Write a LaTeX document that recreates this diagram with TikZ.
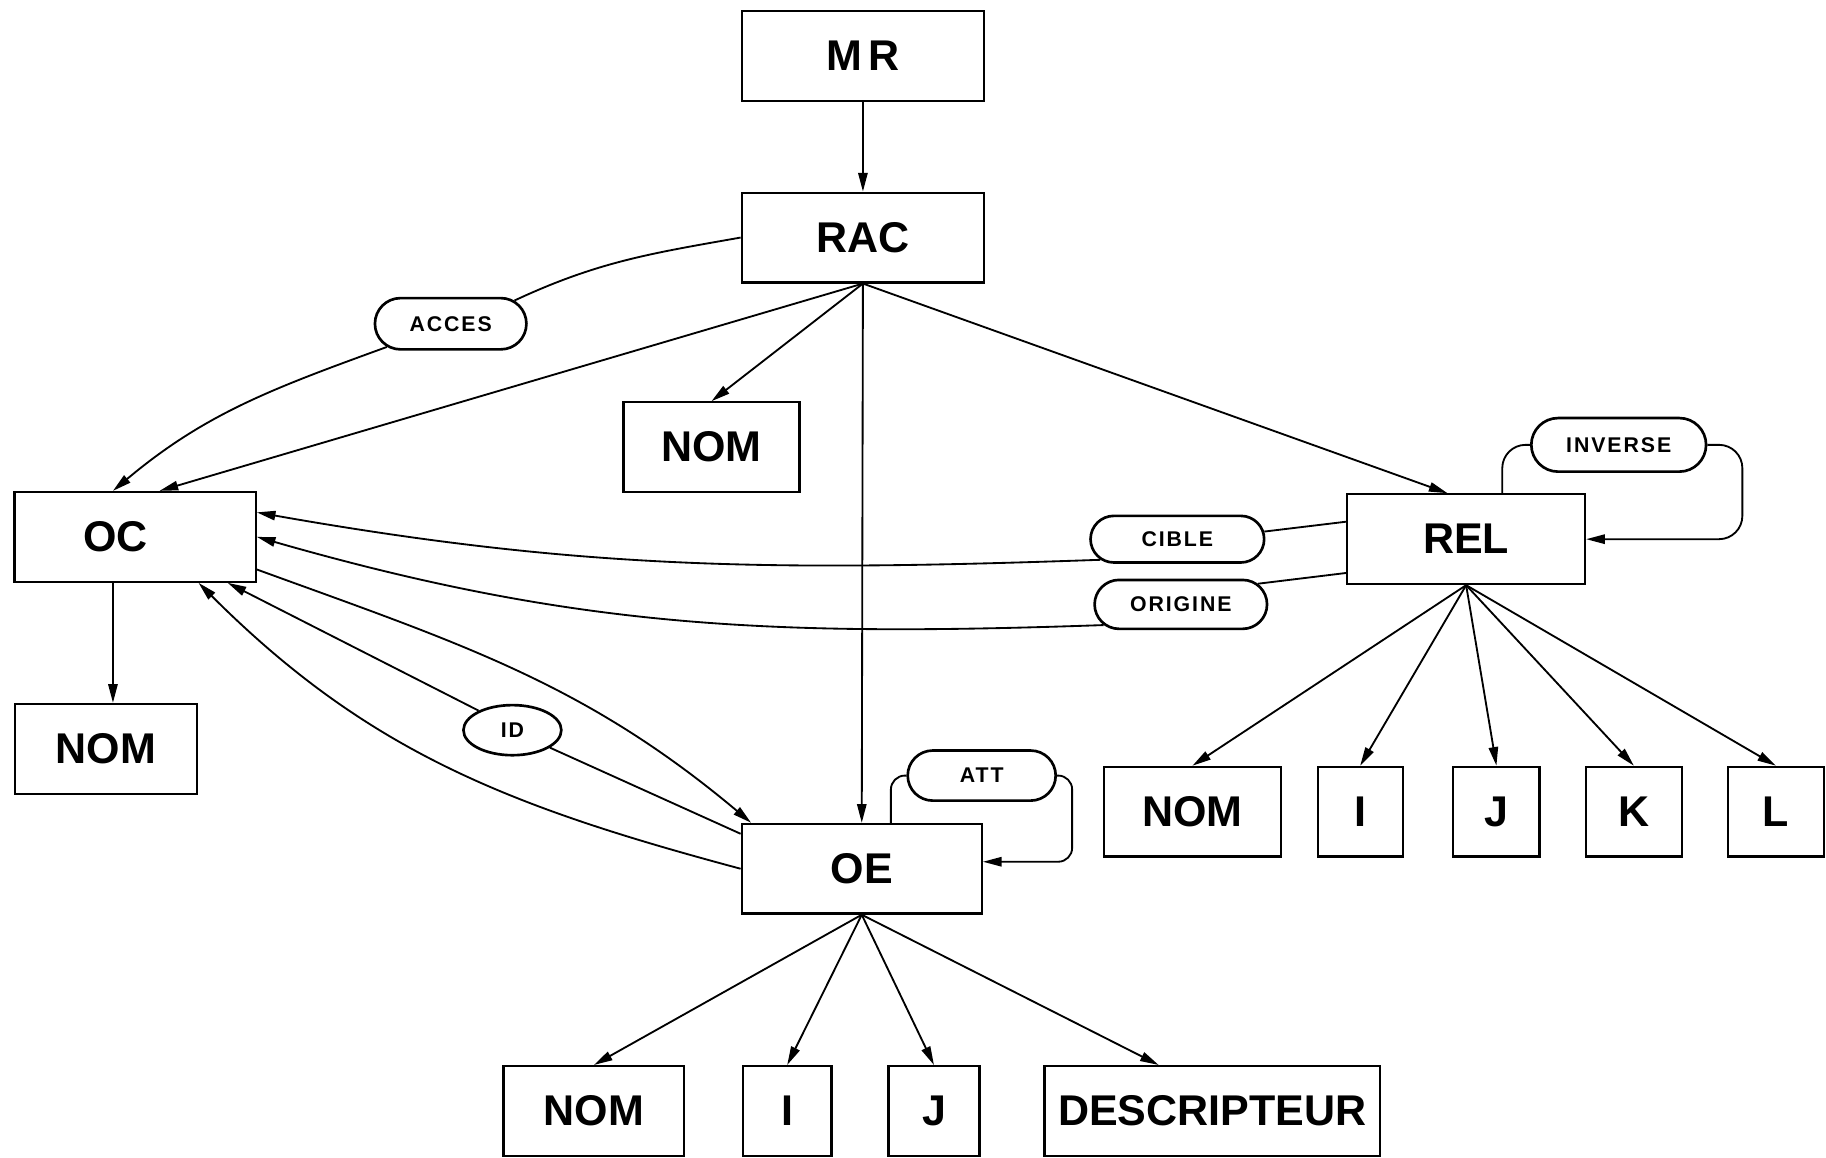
\documentclass[tikz,border=0pt]{standalone}
\usepackage{fontspec}
\setmainfont{Liberation Sans}
\usetikzlibrary{arrows.meta,shapes.misc,shapes.geometric}

\tikzset{
  box/.style={draw, line width=0.55pt, minimum height=0.77cm, inner sep=0pt,
    font=\bfseries\fontsize{10.5}{12}\selectfont},
  spaced/.style={font=\bfseries\fontsize{10.5}{12}\selectfont\addfontfeature{LetterSpace=14}},
  tag/.style={draw, line width=0.65pt, rounded rectangle, inner sep=0pt,
    font=\bfseries\fontsize{5.2}{6}\selectfont\addfontfeature{LetterSpace=9}},
  wire/.style={line width=0.45pt},
  link/.style={line width=0.45pt, -{Triangle[length=1.6mm,width=0.8mm]}}
}

\begin{document}
\begin{tikzpicture}[x=0.01cm,y=0.01cm]
\useasboundingbox (0,0) rectangle (1568,-994);
\node[box, spaced, minimum width=2.08cm] (mr) at (741,-48){MR};
\node[box, minimum width=2.08cm] (rac) at (741,-204){RAC};
\node[box, minimum width=1.51cm] (nomrac) at (611,-384){NOM};
\node[box, minimum width=2.07cm] (oc) at (116,-461){OC\hspace*{0.34cm}};
\node[box, minimum width=1.56cm] (nomoc) at (91,-643){NOM};
\node[box, minimum width=2.04cm] (rel) at (1259,-463){REL};
\node[box, minimum width=2.06cm] (oe) at (740,-746){OE};
\node[box, minimum width=1.55cm] (nomoe) at (510,-954){NOM};
\node[box, minimum width=0.76cm] (ioe) at (676,-954){I};
\node[box, minimum width=0.78cm] (joe) at (802,-954){J};
\node[box, minimum width=2.88cm] (desc) at (1041,-954){DESCRIPTEUR};
\node[box, minimum width=1.52cm] (nomrel) at (1024,-697){NOM};
\node[box, minimum width=0.73cm] (irel) at (1168,-697){I};
\node[box, minimum width=0.74cm] (jrel) at (1285,-697){J};
\node[box, minimum width=0.82cm] (krel) at (1403,-697){K};
\node[box, minimum width=0.82cm] (lrel) at (1525,-697){L};
\node[tag, minimum width=1.30cm, minimum height=0.44cm] (acces) at (387,-278){ACCES};
\node[tag, minimum width=1.50cm, minimum height=0.46cm] (inverse) at (1390,-382){INVERSE};
\node[tag, minimum width=1.49cm, minimum height=0.40cm] (cible) at (1011,-463){CIBLE};
\node[tag, minimum width=1.48cm, minimum height=0.42cm] (origine) at (1014,-519){ORIGINE};
\node[tag, minimum width=1.27cm, minimum height=0.43cm] (att) at (843,-666){ATT};
\node[draw, ellipse, line width=0.65pt, inner sep=0pt, minimum width=0.84cm, minimum height=0.43cm,
  font=\bfseries\fontsize{5.2}{6}\selectfont\addfontfeature{LetterSpace=9}] (id) at (440,-627){ID};
\draw[link] (mr) -- (rac);
\draw[link] (rac.south) -- (nomrac.north);
\draw[link] (rac.south) -- (oe.north);
\draw[link] (rac.south) -- ([xshift=-0.16cm]rel.north);
\draw[link] (rac.south) -- ([xshift=0.21cm]oc.north);
\draw[wire] (rac.west) to[out=190,in=25] (acces.20);
\draw[link] (acces.200) to[out=200,in=40] ([xshift=-0.19cm]oc.north);
\draw[link] ([xshift=-0.19cm]oc.south) -- ([xshift=-0.19cm]oc.south |- nomoc.north);
\draw[wire] ([yshift=0.15cm]rel.west) -- (cible.5);
\draw[link] (cible.195) to[out=182,in=-10] ([yshift=0.21cm]oc.east);
\draw[wire] ([yshift=-0.29cm]rel.west) -- (origine.15);
\draw[link] (origine.195) to[out=182,in=-16] (oc.east);
\draw[wire, rounded corners=0.2cm] ([xshift=0.31cm]rel.north) |- (inverse.west);
\draw[link, rounded corners=0.2cm] (inverse.east) -- ++(30,0) |- (rel.east);
\draw[wire, rounded corners=0.12cm] ([xshift=0.25cm]oe.north) |- (att.west);
\draw[link, rounded corners=0.12cm] (att.east) -- ++(13,0) |- ([yshift=0.06cm]oe.east);
\draw[link] ([yshift=-0.28cm]oc.east) to[out=-20,in=140] ([xshift=0.09cm]oe.north west);
\draw[wire] ([yshift=0.3cm]oe.west) -- (id.-25);
\draw[link] (id.150) -- ([xshift=-0.25cm]oc.south east);
\draw[link] (oe.west) to[out=165,in=-45] ([xshift=-0.5cm]oc.south east);
\draw[link] (rel.south) -- (nomrel.north);
\draw[link] (rel.south) -- (irel.north);
\draw[link] (rel.south) -- (jrel.north);
\draw[link] (rel.south) -- (krel.north);
\draw[link] (rel.south) -- (lrel.north);
\draw[link] (oe.south) -- (nomoe.north);
\draw[link] (oe.south) -- (ioe.north);
\draw[link] (oe.south) -- (joe.north);
\draw[link] (oe.south) -- ([xshift=-0.46cm]desc.north);
\end{tikzpicture}
\end{document}
